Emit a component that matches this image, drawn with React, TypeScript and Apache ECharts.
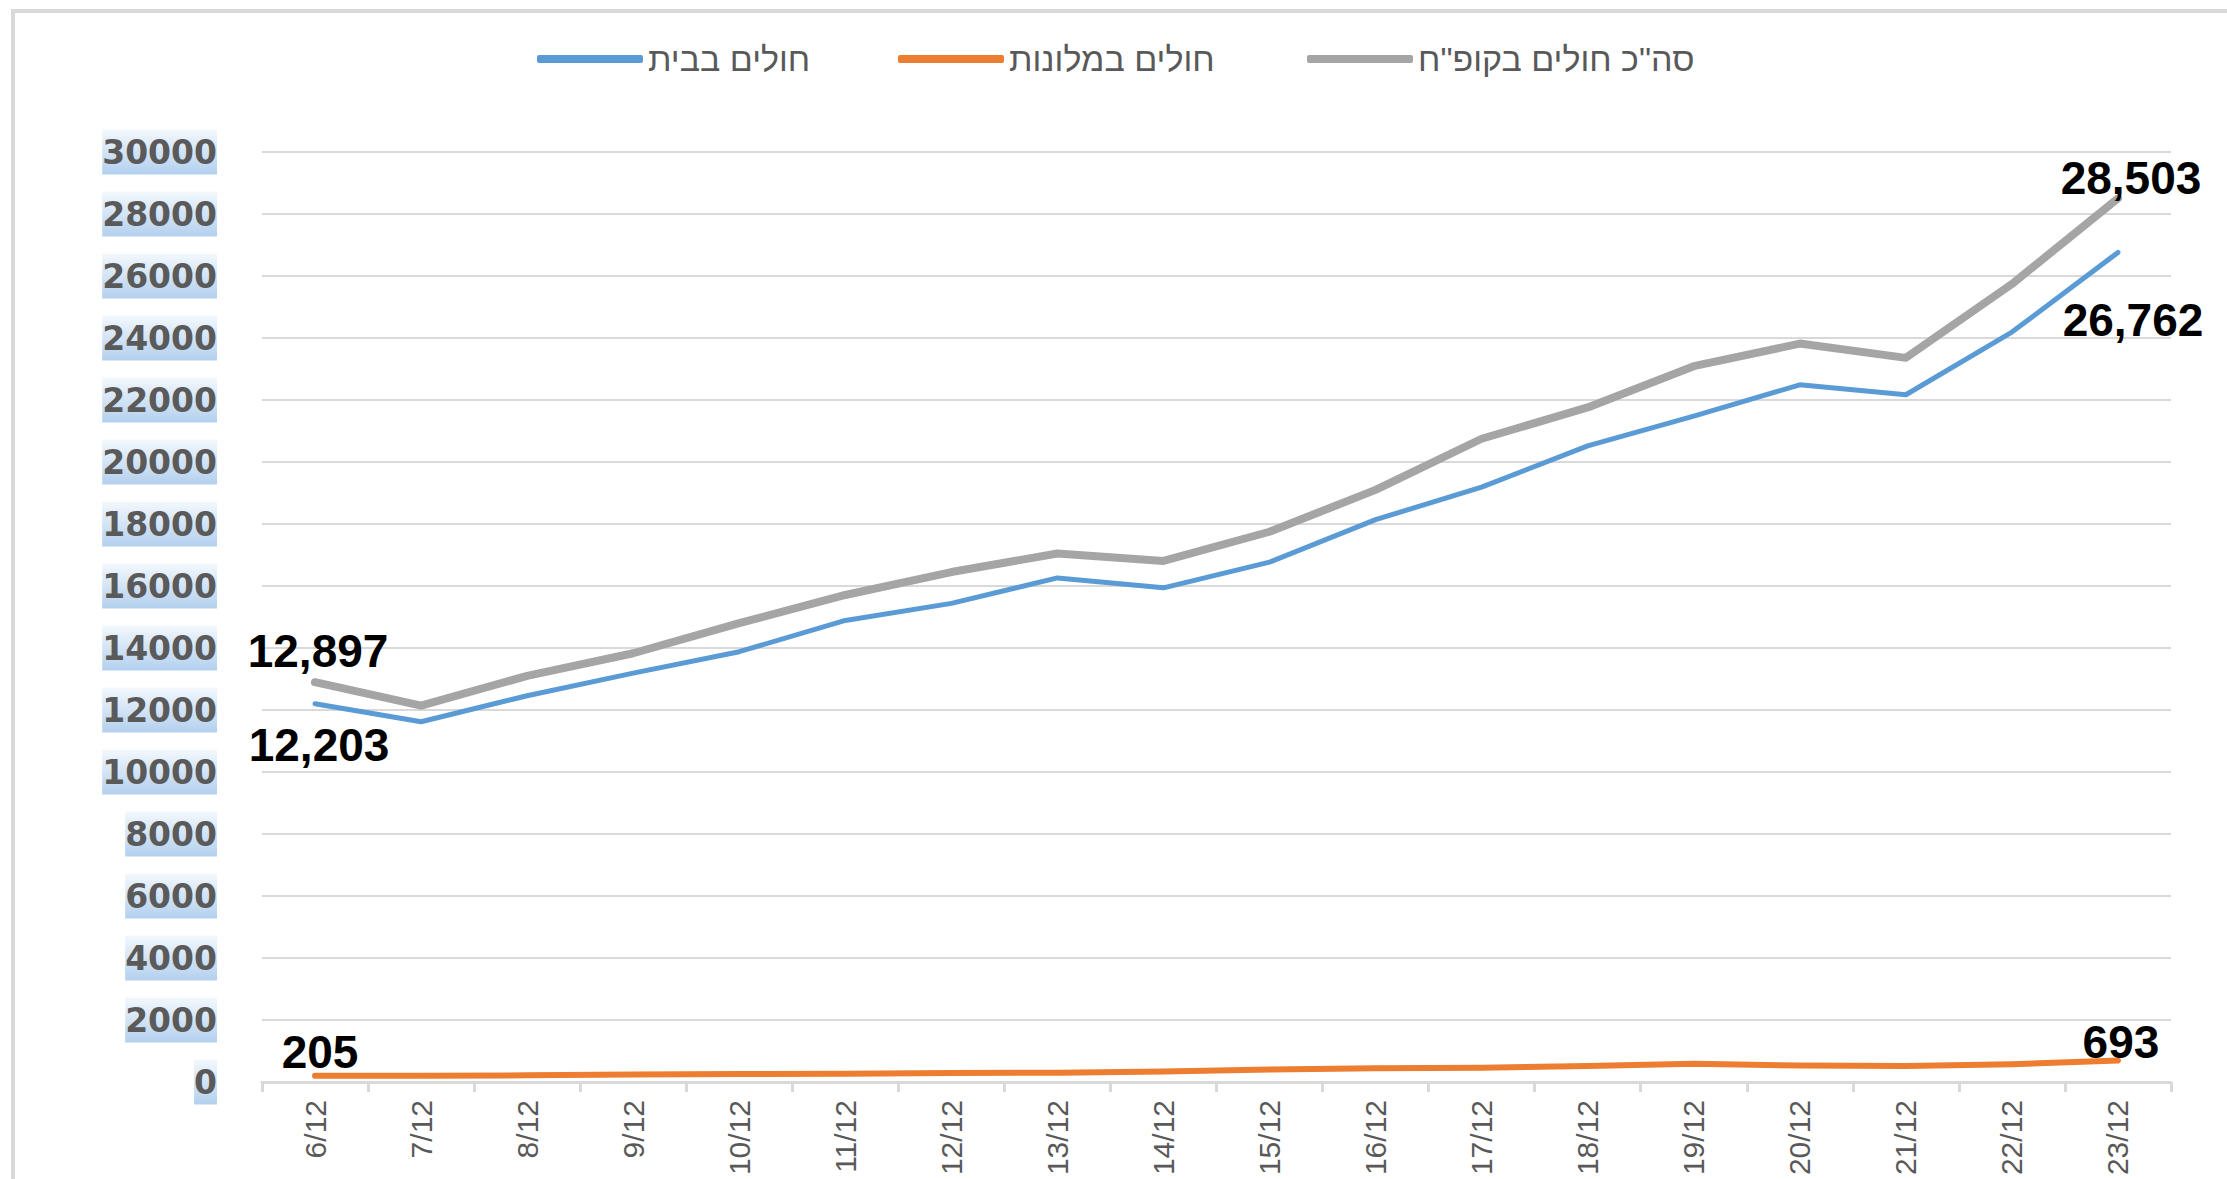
import React, { useEffect, useRef } from "react";
import * as echarts from "echarts";

const categories = ["6/12", "7/12", "8/12", "9/12", "10/12", "11/12", "12/12", "13/12", "14/12", "15/12", "16/12", "17/12", "18/12", "19/12", "20/12", "21/12", "22/12", "23/12"];

const homeSick = [12203, 11620, 12460, 13190, 13880, 14890, 15440, 16260, 15940, 16770, 18140, 19190, 20520, 21480, 22490, 22170, 24190, 26762];
const hotelSick = [205, 200, 215, 245, 255, 270, 290, 300, 340, 400, 440, 460, 520, 590, 530, 520, 570, 693];
const totalSick = [12897, 12140, 13100, 13830, 14800, 15710, 16450, 17050, 16810, 17750, 19100, 20750, 21760, 23090, 23820, 23360, 25740, 28503];

const seriesNames = ["חולים בבית", "חולים במלונות", "סה\"כ חולים בקופ\"ח"];
const seriesColors = ["#5B9BD5", "#ED7D31", "#A5A5A5"];

const labelFont = {
  fontFamily: "'Liberation Sans', Arial, sans-serif",
  fontWeight: "bold" as const,
  fontSize: 46,
  color: "#000000",
};

function withEndLabels(values: number[], first: any, last: any) {
  return values.map((v, i) => {
    if (i === 0) return { value: v, label: { show: true, ...labelFont, ...first } };
    if (i === values.length - 1) return { value: v, label: { show: true, ...labelFont, ...last } };
    return { value: v };
  });
}

const fmt = (p: any) => Number(p.value).toLocaleString("en-US");

export default function App() {
  const ref = useRef<HTMLDivElement>(null);

  useEffect(() => {
    if (!ref.current) return;
    const chart = echarts.init(ref.current, null, { renderer: "svg" });

    const legendBase = {
      orient: "horizontal",
      top: 42,
      padding: 0,
      icon: "roundRect",
      itemWidth: 106,
      itemHeight: 8,
      itemGap: 8,
      textStyle: {
        fontFamily: "'Liberation Sans', Arial, sans-serif",
        fontSize: 34,
        color: "#595959",
      },
    };

    const lineCommon = {
      type: "line",
      symbol: "circle",
      symbolSize: 1,
      showSymbol: true,
      showAllSymbol: true,
      label: { show: false },
      emphasis: { disabled: true },
    };

    const option: any = {
      animation: false,
      backgroundColor: "#ffffff",
      graphic: [
        {
          type: "rect",
          shape: { x: 13, y: 11, width: 2400, height: 1400 },
          style: { fill: "none", stroke: "#d9d9d9", lineWidth: 4 },
          silent: true,
        },
      ],
      legend: [
        { ...legendBase, left: 537, data: [seriesNames[0]] },
        { ...legendBase, left: 898, data: [seriesNames[1]] },
        { ...legendBase, left: 1307, data: [seriesNames[2]] },
      ],
      grid: { left: 262, right: 56, top: 152, bottom: 97, containLabel: false },
      xAxis: {
        type: "category",
        data: categories,
        boundaryGap: true,
        axisLine: { show: true, lineStyle: { color: "#d9d9d9", width: 3 } },
        axisTick: { show: true, length: 10, lineStyle: { color: "#d9d9d9", width: 3 } },
        axisLabel: {
          rotate: 90,
          margin: 18,
          fontFamily: "'Liberation Sans', Arial, sans-serif",
          fontSize: 30,
          color: "#595959",
        },
        splitLine: { show: false },
      },
      yAxis: {
        type: "value",
        min: 0,
        max: 30000,
        interval: 2000,
        axisLine: { show: false },
        axisTick: { show: false },
        splitLine: { show: true, lineStyle: { color: "#d9d9d9", width: 2 } },
        axisLabel: {
          margin: 45,
          formatter: (v: number) => String(v),
          fontFamily: "'DejaVu Sans', Verdana, sans-serif",
          fontWeight: "bold",
          fontSize: 33,
          color: "#5a5a5a",
          padding: [6, 0, 6, 0],
          backgroundColor: new echarts.graphic.LinearGradient(0, 0, 0, 1, [
            { offset: 0, color: "#f3f8fd" },
            { offset: 1, color: "#b3d0ee" },
          ]),
        },
      },
      series: [
        {
          ...lineCommon,
          name: seriesNames[0],
          data: withEndLabels(
            homeSick,
            { position: "bottom", distance: 18, offset: [4, 0], formatter: fmt },
            { position: "bottom", distance: 44, offset: [15, 0], formatter: fmt }
          ),
          lineStyle: { color: seriesColors[0], width: 5, cap: "round", join: "round" },
          itemStyle: { color: seriesColors[0] },
          z: 3,
        },
        {
          ...lineCommon,
          name: seriesNames[1],
          data: withEndLabels(
            hotelSick,
            { position: "top", distance: 0, offset: [5, 0], formatter: fmt },
            { position: "top", distance: -5, offset: [3, 0], formatter: fmt }
          ),
          lineStyle: { color: seriesColors[1], width: 6, cap: "round", join: "round" },
          itemStyle: { color: seriesColors[1] },
          z: 3,
        },
        {
          ...lineCommon,
          name: seriesNames[2],
          data: withEndLabels(
            totalSick,
            { position: "top", distance: 8, offset: [3, 0], formatter: fmt },
            { position: "top", distance: -3, offset: [13, 0], formatter: fmt }
          ),
          lineStyle: { color: seriesColors[2], width: 8, cap: "round", join: "round" },
          itemStyle: { color: seriesColors[2] },
          z: 2,
        },
      ],
    };

    chart.setOption(option);
    return () => chart.dispose();
  }, []);

  return (
    <div
      ref={ref}
      style={{ position: "fixed", left: 0, top: 0, width: 2227, height: 1179, background: "#fff" }}
    />
  );
}
